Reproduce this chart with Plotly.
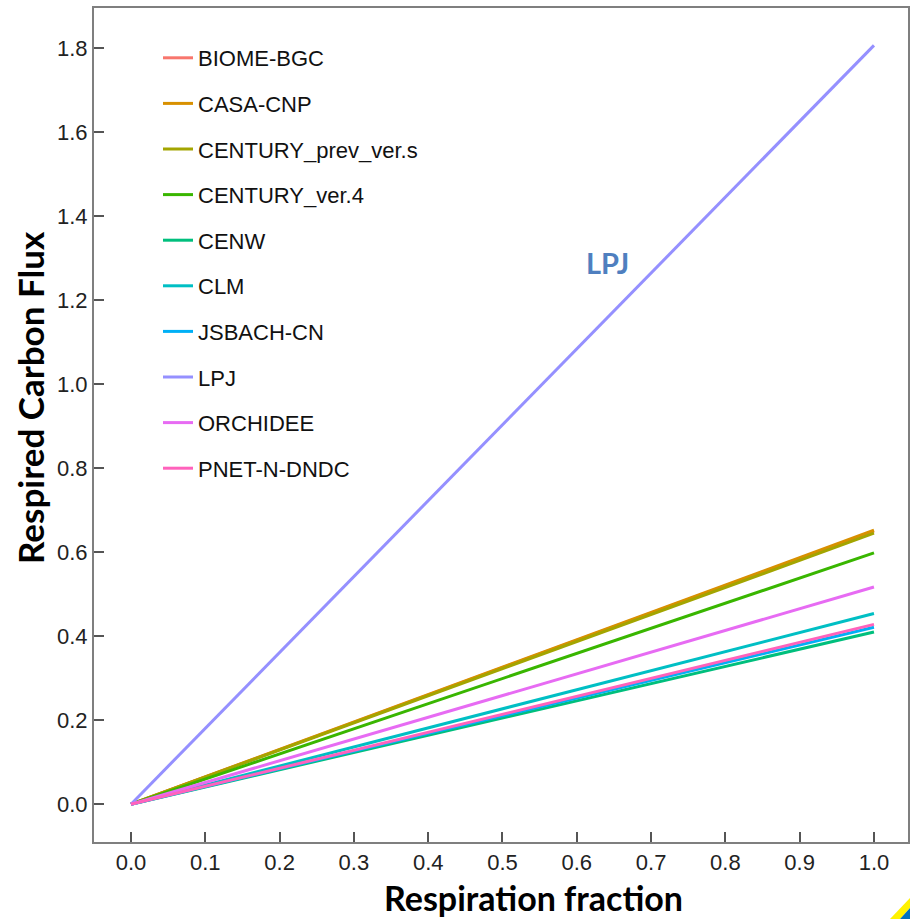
import plotly.graph_objects as go

models = ["BIOME-BGC", "CASA-CNP", "CENTURY_prev_ver.s", "CENTURY_ver.4", "CENW",
          "CLM", "JSBACH-CN", "LPJ", "ORCHIDEE", "PNET-N-DNDC"]
colors = ["#F8766D", "#D89000", "#A3A500", "#39B600", "#00BF7D",
          "#00BFC4", "#00B0F6", "#9590FF", "#E76BF3", "#FF62BC"]
resp_fraction = [0.0, 1.0]
flux_at_end = [0.650, 0.652, 0.645, 0.598, 0.410, 0.454, 0.421, 1.806, 0.517, 0.428]

xticks = [0.0, 0.1, 0.2, 0.3, 0.4, 0.5, 0.6, 0.7, 0.8, 0.9, 1.0]
yticks = [0.0, 0.2, 0.4, 0.6, 0.8, 1.0, 1.2, 1.4, 1.6, 1.8]

W, H = 910, 919
plot_l, plot_r, plot_t, plot_b = 94, 908, 8, 842


def px_to_paper(px, py):
    return (px - plot_l) / (plot_r - plot_l), (plot_b - py) / (plot_b - plot_t)


fig = go.Figure()
for name, col, v in zip(models, colors, flux_at_end):
    fig.add_trace(go.Scatter(x=resp_fraction, y=[0.0, v], mode="lines", name=name,
                             legendgroup=name,
                             line=dict(color=col, width=3)))

axis_common = dict(showline=True, linecolor="#7f7f7f", linewidth=2, mirror=True,
                   ticks="inside", ticklen=10, tickwidth=2, tickcolor="#555555",
                   showgrid=False, zeroline=False,
                   tickfont=dict(family="Liberation Sans, Arial", size=22, color="#222222"))

lx, ly = px_to_paper(158, 37)
xt_x, xt_y = px_to_paper(533, 897)
yt_x, yt_y = px_to_paper(30, 398)

# decorative corner (slide logo fragment)
def path(points):
    s = ""
    for i, (px, py) in enumerate(points):
        x, y = px_to_paper(px, py)
        s += ("M" if i == 0 else "L") + f"{x:.5f},{y:.5f} "
    return s + "Z"

fig.update_layout(
    width=W, height=H,
    margin=dict(l=plot_l, r=W - plot_r, t=plot_t, b=H - plot_b, autoexpand=False),
    paper_bgcolor="white", plot_bgcolor="white",
    xaxis=dict(range=[-0.0498, 1.0458], tickvals=xticks, ticktext=[f"{t:.1f}" for t in xticks],
               **axis_common),
    yaxis=dict(range=[-0.09, 1.895], tickvals=yticks, ticktext=[f"{t:.1f}" for t in yticks],
               **axis_common),
    legend=dict(x=lx, y=ly, xanchor="left", yanchor="top",
                bgcolor="rgba(0,0,0,0)", tracegroupgap=14,
                font=dict(family="Liberation Sans, Arial", size=22, color="#111111")),
    showlegend=True,
    annotations=[
        dict(text="<b>LPJ</b>", x=0.641, y=1.289, xref="x", yref="y", showarrow=False,
             font=dict(family="Lato, Open Sans", size=29, color="#4F7FBF")),
        dict(text="<b>Respiration fraction</b>", x=xt_x, y=xt_y, xref="paper", yref="paper",
             xanchor="center", yanchor="middle", showarrow=False,
             font=dict(family="Lato, Open Sans", size=34, color="black")),
        dict(text="<b>Respired Carbon Flux</b>", x=yt_x, y=yt_y, xref="paper", yref="paper",
             xanchor="center", yanchor="middle", textangle=-90, showarrow=False,
             font=dict(family="Lato, Open Sans", size=35, color="black")),
    ],
    shapes=[
        dict(type="path", xref="paper", yref="paper", layer="above",
             path=path([(890, 919), (910, 898), (910, 908), (900, 919)]),
             fillcolor="#FFF200", line=dict(width=0)),
        dict(type="path", xref="paper", yref="paper", layer="above",
             path=path([(900, 919), (910, 908), (910, 919)]),
             fillcolor="#0070C0", line=dict(width=0)),
    ],
)

fig.write_html("out.html", config={"displayModeBar": False},
               post_script="document.body.style.margin='0';document.body.style.overflow='hidden';")
